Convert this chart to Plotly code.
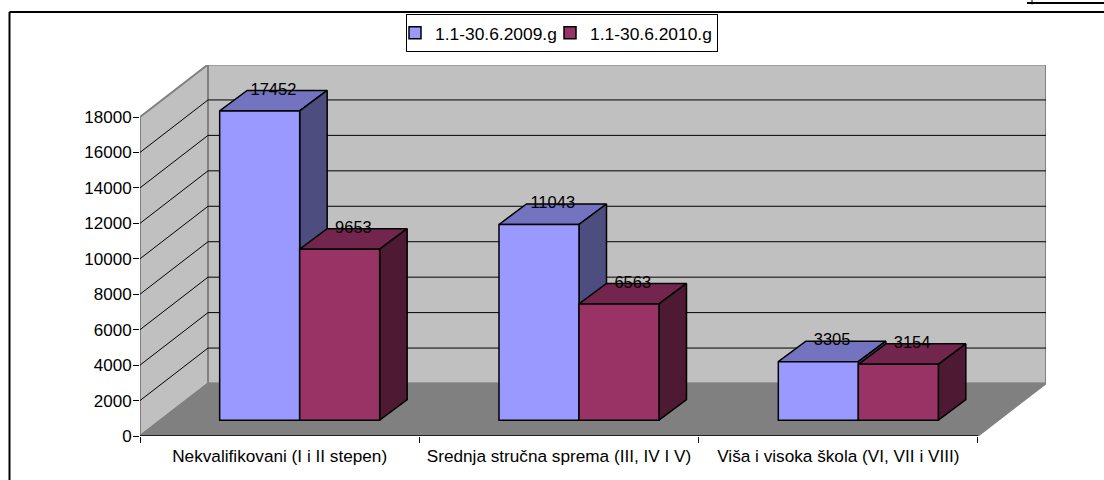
import plotly.graph_objects as go

categories = ["Nekvalifikovani (I i II stepen)", "Srednja stručna sprema (III, IV I V)", "Viša i visoka škola (VI, VII i VIII)"]
series_names = ["1.1-30.6.2009.g", "1.1-30.6.2010.g"]
values_2009 = [17452, 11043, 3305]
values_2010 = [9653, 6563, 3154]
y_ticks = list(range(0, 18001, 2000))

FRONT = ["#9999FF", "#993366"]
TOP = ["#7373BF", "#73264D"]
SIDE = ["#4D4D80", "#4D1933"]
WALL = "#C0C0C0"
FLOOR = "#808080"
FONT = "Liberation Sans"
FS = 16.5
FS_Y = 17
FS_CAT = 17.2
FS_LEG = 17.4

W, H = 1104, 480
L, R, T, B = 140, 58, 65, 44
XMAX = 906 / 279.33
YMAX = 371 / (319 / 18000)
WALL_DX, WALL_DY = 68 / 279.33, 52.5 / (319 / 18000)
BAR_W = 80 / 279.33
BAR_OX, BAR_OY = 20 / 279.33, 15.8 / (319 / 18000)
BAR_DX, BAR_DY = 27.5 / 279.33, 20.5 / (319 / 18000)
YTOP = y_ticks[-1]
n = len(categories)


def px(x):
    return (x - L) / (W - L - R)


def py(y):
    return (H - B - y) / (H - T - B)


fig = go.Figure()


def poly(xs, ys, fill, line, width=1.5):
    fig.add_trace(go.Scatter(x=xs + xs[:1], y=ys + ys[:1], mode="lines", fill="toself", fillcolor=fill,
                             line=dict(color=line, width=width), showlegend=False, hoverinfo="skip",
                             cliponaxis=False))


# walls and floor
poly([0, WALL_DX, WALL_DX, 0], [0, WALL_DY, YTOP + WALL_DY, YTOP], WALL, "#808080", 2)
poly([WALL_DX, n + WALL_DX, n + WALL_DX, WALL_DX], [WALL_DY, WALL_DY, YTOP + WALL_DY, YTOP + WALL_DY], WALL, "#808080", 2)
poly([0, n, n + WALL_DX, WALL_DX], [0, 0, WALL_DY, WALL_DY], FLOOR, "#808080", 1.5)
# gridlines
for t in y_ticks[1:-1]:
    fig.add_trace(go.Scatter(x=[0, WALL_DX, n + WALL_DX], y=[t, t + WALL_DY, t + WALL_DY], mode="lines",
                             line=dict(color="#000000", width=1), showlegend=False, hoverinfo="skip",
                             cliponaxis=False))
fig.add_trace(go.Scatter(x=[0, n], y=[0, 0], mode="lines", line=dict(color="#000000", width=1.5),
                         showlegend=False, hoverinfo="skip", cliponaxis=False))

# bar tops and sides (behind the fronts)
all_values = [values_2009, values_2010]
centers = [i + 0.5 + BAR_OX for i in range(n)]
for c, cx in enumerate(centers):
    for s in range(2):
        v = all_values[s][c] + BAR_OY
        x0 = cx - BAR_W + s * BAR_W
        x1 = x0 + BAR_W
        poly([x0, x1, x1 + BAR_DX, x0 + BAR_DX], [v, v, v + BAR_DY, v + BAR_DY], TOP[s], "#000000")
        poly([x1, x1 + BAR_DX, x1 + BAR_DX, x1],
             [BAR_OY, BAR_OY + BAR_DY, v + BAR_DY, v], SIDE[s], "#000000")

# bar fronts on an overlaid axis pair so they sit above all faces
for s in range(2):
    fig.add_trace(go.Bar(x=[cx - BAR_W / 2 + s * BAR_W for cx in centers], y=all_values[s],
                         base=[BAR_OY] * n, width=BAR_W, name=series_names[s],
                         marker=dict(color=FRONT[s], line=dict(color="#000000", width=1.5)),
                         xaxis="x2", yaxis="y2", hoverinfo="y"))
# data labels
for s in range(2):
    fig.add_trace(go.Scatter(x=[cx - BAR_W / 2 + s * BAR_W + BAR_DX / 2 for cx in centers],
                             y=[v + BAR_OY + BAR_DY for v in all_values[s]],
                             text=[str(v) for v in all_values[s]], mode="text", textposition="middle center",
                             textfont=dict(family=FONT, size=FS, color="#000000"), showlegend=False,
                             hoverinfo="skip", xaxis="x2", yaxis="y2", cliponaxis=False))

frame = dict(color="#000000", width=2)
shapes = [
    dict(type="line", xref="paper", yref="paper", x0=px(9.5), x1=px(9.5), y0=py(12), y1=py(482), line=frame),
    dict(type="line", xref="paper", yref="paper", x0=px(9.5), x1=px(1106), y0=py(12), y1=py(12), line=frame),
    dict(type="line", xref="paper", yref="paper", x0=px(1027), x1=px(1106), y0=py(3), y1=py(3), line=frame),
    dict(type="line", xref="paper", yref="paper", x0=px(1032), x1=px(1032), y0=py(0), y1=py(4.5), line=dict(color="#000000", width=1)),
]

fig.update_layout(
    width=W, height=H, autosize=False, margin=dict(l=L, r=R, t=T, b=B, autoexpand=False),
    paper_bgcolor="#FFFFFF", plot_bgcolor="#FFFFFF", font=dict(family=FONT, size=FS, color="#000000"),
    barmode="overlay", shapes=shapes,
    legend=dict(orientation="h", xref="paper", yref="paper", x=px(562), y=py(14), xanchor="center", yanchor="top",
                bordercolor="#000000", borderwidth=1, bgcolor="#FFFFFF", font=dict(family=FONT, size=FS_LEG),
                itemwidth=30, traceorder="normal", indentation=-12, entrywidth=122),
    xaxis=dict(range=[0, XMAX], tickmode="array", tickvals=[i + 0.5 for i in range(n)], ticktext=categories,
               ticks="", showgrid=False, zeroline=False, showline=False, fixedrange=True, ticklabelstandoff=8,
               minor=dict(tickmode="array", tickvals=list(range(n + 1)), ticks="outside", ticklen=6,
                          tickcolor="#000000", tickwidth=1, showgrid=False),
               tickfont=dict(family=FONT, size=FS_CAT)),
    yaxis=dict(range=[0, YMAX], tickmode="array", tickvals=y_ticks, tickformat="d", ticks="outside", ticklen=6,
               tickcolor="#000000", tickwidth=1, showgrid=False, zeroline=False, showline=False, fixedrange=True,
               ticklabelstandoff=-2, tickfont=dict(family=FONT, size=FS_Y)),
    xaxis2=dict(range=[0, XMAX], overlaying="x", visible=False, fixedrange=True),
    yaxis2=dict(range=[0, YMAX], overlaying="y", visible=False, fixedrange=True),
)

fig.write_html("out.html", config={"displayModeBar": False},
               post_script="document.body.style.margin='0';document.body.style.overflow='hidden';")
